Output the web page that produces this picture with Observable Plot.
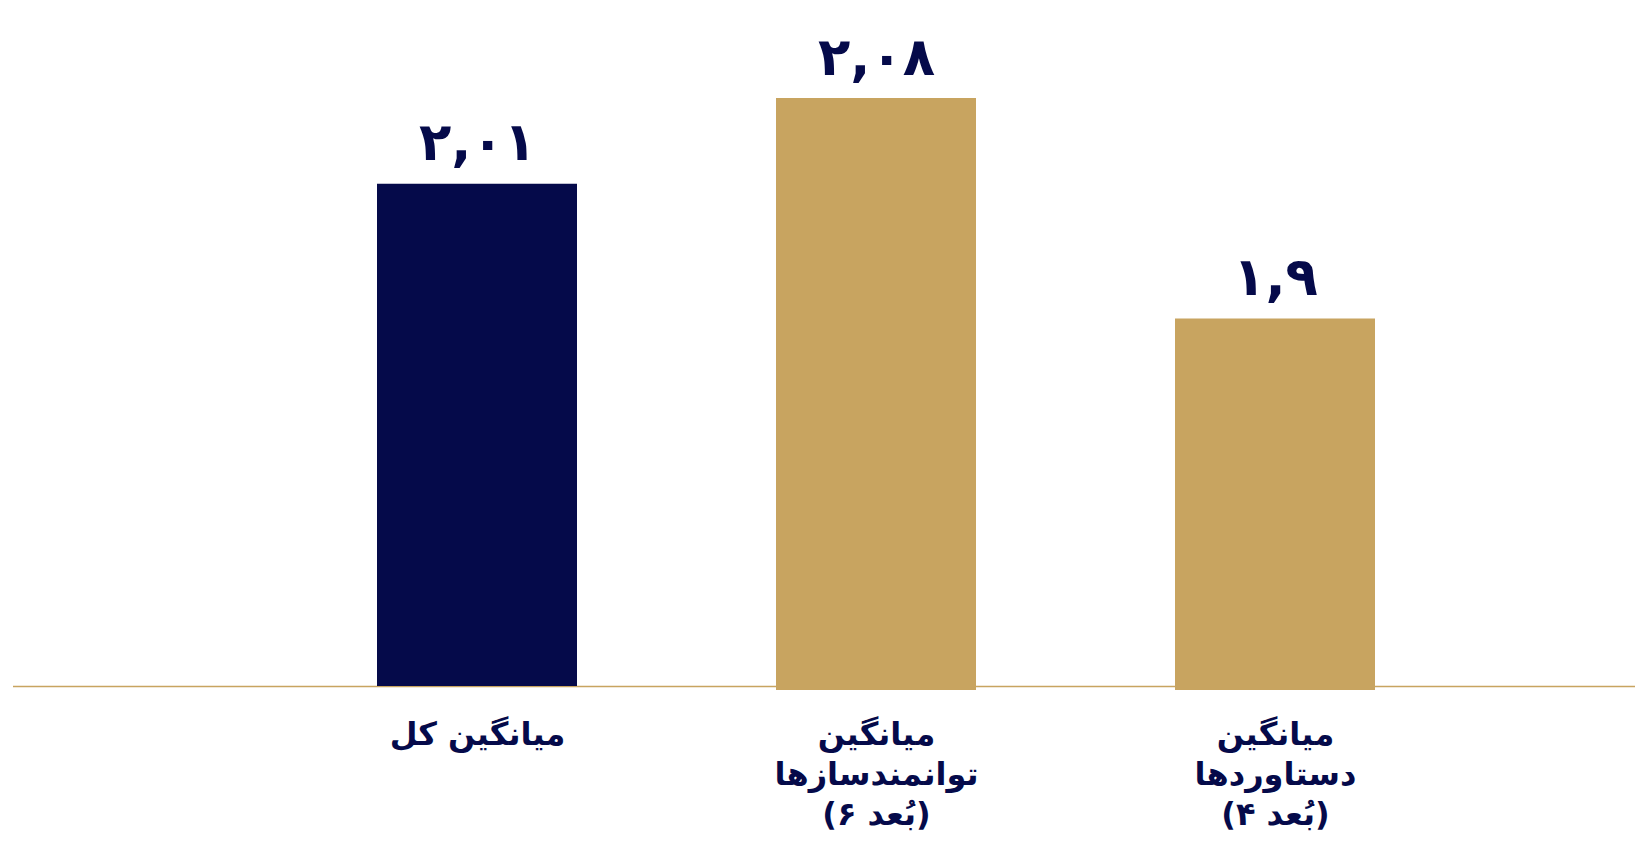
<!DOCTYPE html>
<html>
<head>
<meta charset="utf-8">
<script src="https://cdn.jsdelivr.net/npm/d3@7"></script>
<script src="https://cdn.jsdelivr.net/npm/@observablehq/plot@0.6"></script>
<style>
  html, body { margin: 0; padding: 0; background: #ffffff; }
  #chart svg { display: block; }
</style>
</head>
<body>
<div id="chart"></div>
<script>
// ---- data ----
const categories = [
  "میانگین کل",
  "میانگین\nتوانمندسازها\n(۶ بُعد)",
  "میانگین\nدستاوردها\n(۴ بُعد)"
];
const values = [2.01, 2.08, 1.9];
const valueLabels = ["۲,۰۱", "۲,۰۸", "۱,۹"];
const groups = ["total", "dimension", "dimension"];

// ---- styles ----
const navy = "#050a4a";
const gold = "#c8a460";
const yBase = 1.6;
const W = 1635, H = 841;
const mLeft = 177.5, mRight = 60.5, mTop = 73.5, mBottom = 155;

const data = categories.map((c, i) => ({cat: c, value: values[i], label: valueLabels[i], group: groups[i]}));

const chart = Plot.plot({
  width: W,
  height: H,
  marginLeft: mLeft,
  marginRight: mRight,
  marginTop: mTop,
  marginBottom: mBottom,
  style: {fontFamily: "DejaVu Sans", background: "#ffffff"},
  x: {domain: categories, padding: 0.5, label: null},
  y: {domain: [yBase, 2.1], axis: null},
  color: {domain: ["total", "dimension"], range: [navy, gold]},
  marks: [
    Plot.ruleY([yBase], {stroke: gold, strokeWidth: 1.5, insetLeft: -(mLeft - 13), insetRight: -mRight}),
    Plot.barY(data.filter(d => d.group === "total"), {x: "cat", y1: yBase, y2: "value", fill: "group"}),
    Plot.barY(data.filter(d => d.group !== "total"), {x: "cat", y1: yBase, y2: "value", fill: "group", insetBottom: -4}),
    Plot.text(data, {x: "cat", y: "value", text: "label", dy: -24, lineAnchor: "bottom", fontSize: 53, fontWeight: "bold", fill: navy}),
    Plot.axisX({tickSize: 0, tickPadding: 30, fontSize: 32, fontWeight: "bold", lineHeight: 1.25, fill: navy, label: null})
  ]
});
document.getElementById("chart").appendChild(chart);
</script>
</body>
</html>
